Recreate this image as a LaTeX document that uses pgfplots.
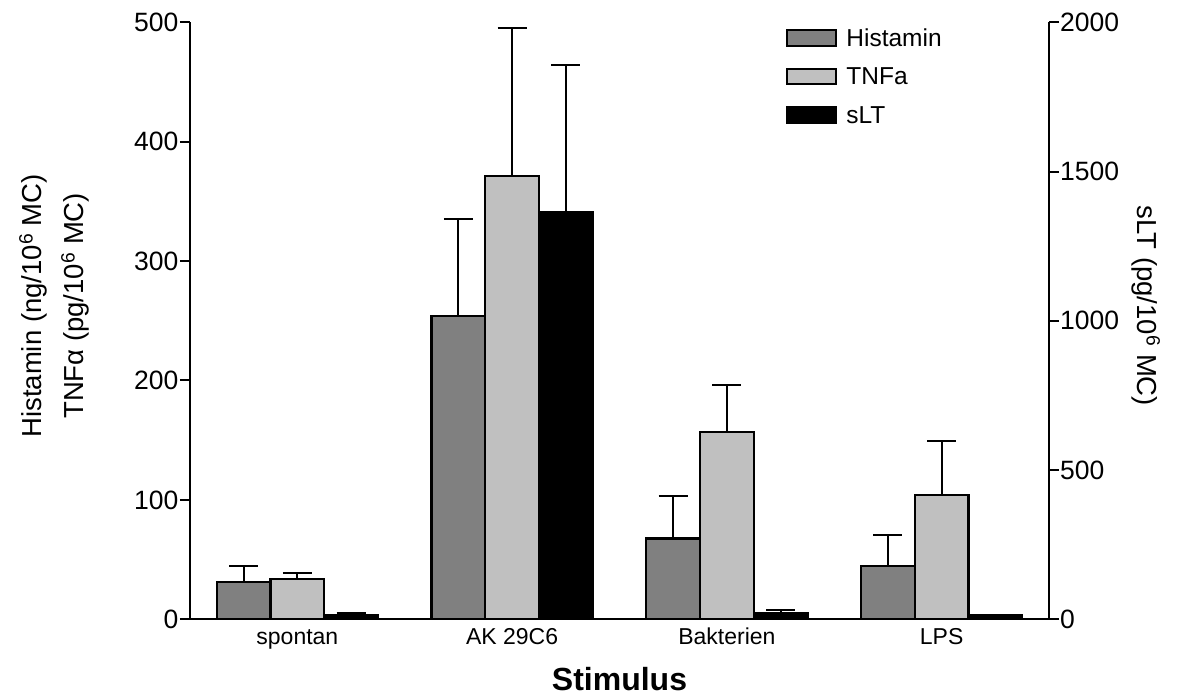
\documentclass[border=0pt]{standalone}
\usepackage{pgfplots}
\pgfplotsset{compat=1.18}
\usepackage{fontspec}
\setmainfont{Liberation Sans}
\definecolor{histgray}{HTML}{808080}
\definecolor{tnfgray}{HTML}{C0C0C0}
\begin{document}
\begin{tikzpicture}
\useasboundingbox (-190pt,-75.7pt) rectangle (987pt,619.3pt);
\pgfplotsset{
  common/.style={
    scale only axis, width=859pt, height=597pt,
    xmin=-0.5, xmax=3.5, ymin=0,
    axis line style={line width=2pt, -},
    tick style={line width=2pt, black},
    major tick length=10pt,
    tick align=outside,
    /pgf/number format/assume math mode=true,
    /pgf/number format/1000 sep={},
    yticklabel style={font=\fontsize{26.5}{26.5}\selectfont, inner sep=1.5pt},
  },
  errs/.style={
    /pgfplots/error bars/y dir=plus,
    /pgfplots/error bars/y explicit,
    /pgfplots/error bars/error mark=-,
    /pgfplots/error bars/error mark options={rotate=90, mark size=14.5pt, line width=2pt, black},
    /pgfplots/error bars/error bar style={line width=2pt, black, xshift=#1},
  },
  bars/.style={ybar, bar width=53.69pt, draw=black, line width=2.2pt},
}
\begin{axis}[common, ymax=500,
  axis x line*=bottom, axis y line*=left,
  ytick={0,100,...,500},
  xtick={0,1,2,3}, xticklabels={spontan,AK 29C6,Bakterien,LPS},
  every x tick/.style={draw=none},
  xticklabel style={font=\fontsize{23}{23}\selectfont, inner sep=0pt, text height=16.5pt, text depth=5pt, yshift=1.6pt},
  xlabel={\bfseries Stimulus},
  xlabel style={font=\fontsize{32}{32}\selectfont, inner sep=0pt, text height=23pt, text depth=0pt, at={(axis description cs:0.5,-0.0804)}, anchor=north},
  ylabel={Histamin (ng/10\textsuperscript{6} MC)\\TNFα (pg/10\textsuperscript{6} MC)},
  ylabel style={font=\fontsize{27.5}{41.8}\selectfont, align=center, inner sep=0pt, at={(axis description cs:-0.158,0.525)}, anchor=center},
]
\addplot[bars, bar shift=-53.69pt, fill=histgray, errs=-53.69pt]
  coordinates {(0,31) +- (0,14) (1,254) +- (0,81) (2,67.6) +- (0,36) (3,44.6) +- (0,25.8)};
\addplot[bars, bar shift=0pt, fill=tnfgray, errs=0pt]
  coordinates {(0,33.5) +- (0,5) (1,371) +- (0,124) (2,157) +- (0,39) (3,104.4) +- (0,44.6)};
\end{axis}
\begin{axis}[common, ymax=2000,
  axis x line=none, axis y line*=right,
  ytick={0,500,...,2000},
  yticklabel style={inner sep=1pt},
  ylabel={sLT (pg/10\textsuperscript{6} MC)},
  ylabel style={font=\fontsize{27.5}{27.5}\selectfont, inner sep=0pt, at={(axis description cs:1.113,0.525)}, anchor=center, rotate=180},
  legend style={at={(rel axis cs:0.6938,0.9888)}, anchor=north west, draw=none, fill=none,
    inner sep=0pt, row sep=16.3pt, column sep=9pt, font=\fontsize{24.5}{24.5}\selectfont,
    nodes={inner sep=0pt, text height=17pt, text depth=5pt}, cells={anchor=base west}},
  legend image code/.code={\draw[#1] (0pt,0.8pt) rectangle (49pt,16.2pt);},
]
\addlegendimage{fill=histgray, draw=black, line width=2pt}
\addlegendentry{Histamin}
\addlegendimage{fill=tnfgray, draw=black, line width=2pt}
\addlegendentry{TNFa}
\addplot[bars, bar shift=53.69pt, fill=black, errs=53.69pt]
  coordinates {(0,14) +- (0,6) (1,1364) +- (0,492) (2,21) +- (0,10) (3,13) +- (0,2)};
\addlegendentry{sLT}
\end{axis}
\end{tikzpicture}
\end{document}
